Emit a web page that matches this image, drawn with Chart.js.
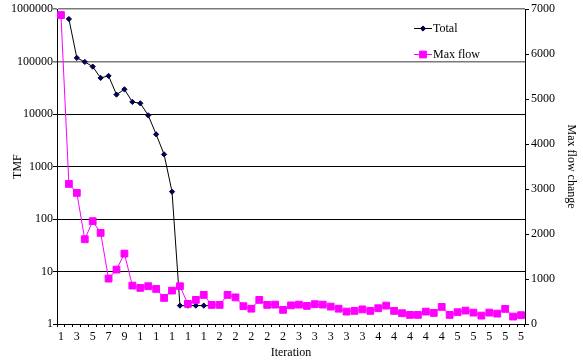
<!DOCTYPE html>
<html>
<head>
<meta charset="utf-8">
<script src="https://cdn.jsdelivr.net/npm/chart.js@4.4.1/dist/chart.umd.min.js"></script>
<style>
html,body{margin:0;padding:0;background:#fff;}
#wrap{width:583px;height:360px;}
</style>
</head>
<body>
<div id="wrap"><canvas id="c" width="583" height="360"></canvas></div>
<script>
const iterations = [1,2,3,4,5,6,7,8,9,10,11,12,13,14,15,16,17,18,19,20,21,22,23,24,25,26,27,28,29,30,31,32,33,34,35,36,37,38,39,40,41,42,43,44,45,46,47,48,49,50,51,52,53,54,55,56,57,58,59];
const tickLabels = ["1","","3","","5","","7","","9","","1","","1","","1","","1","","1","","2","","2","","2","","2","","2","","3","","3","","3","","3","","3","","4","","4","","4","","4","","4","","5","","5","","5","","5","","5"];
const totalTMF = [null,650000,118000,99000,80500,49000,53600,23600,29700,17100,16100,9480,4120,1710,332,2.24,2.24,2.24,2.24,2.24,
  null,null,null,null,null,null,null,null,null,null,null,null,null,null,null,null,null,null,null,null,
  null,null,null,null,null,null,null,null,null,null,null,null,null,null,null,null,null,null,null];
const maxFlow = [6870,3115,2915,1885,2286,2026,1010,1210,1565,854,803,840,780,580,743,840,447,536,647,425,
  425,647,592,396,340,536,425,431,314,414,431,402,440,431,387,340,276,291,325,291,
  351,409,291,240,202,202,276,247,380,202,262,298,253,187,253,231,336,165,196];
const leftTicks = [1,10,100,1000,10000,100000,1000000];
const seriesNames = ["Total","Max flow"];

const FONT = {family:"'Liberation Serif','Times New Roman',serif", size:12};

const legendPlugin = {
  id:'customLegend',
  afterDraw(chart){
    const ctx = chart.ctx;
    const items = [
      {ds:chart.data.datasets[0], y:28},
      {ds:chart.data.datasets[1], y:54}
    ];
    ctx.save();
    items.forEach(it=>{
      ctx.strokeStyle = it.ds.borderColor;
      ctx.lineWidth = 1;
      ctx.beginPath();
      ctx.moveTo(414, it.y + 0.5);
      ctx.lineTo(432, it.y + 0.5);
      ctx.stroke();
      ctx.fillStyle = it.ds.pointBackgroundColor;
      ctx.strokeStyle = it.ds.pointBorderColor;
      ctx.beginPath();
      if (it.ds.pointStyle === 'rect') {
        const s = it.ds.pointRadius * Math.SQRT1_2;
        ctx.rect(423 - s, it.y + 0.5 - s, 2*s, 2*s);
      } else {
        const r = it.ds.pointRadius;
        ctx.moveTo(423, it.y + 0.5 - r); ctx.lineTo(423 + r, it.y + 0.5);
        ctx.lineTo(423, it.y + 0.5 + r); ctx.lineTo(423 - r, it.y + 0.5); ctx.closePath();
      }
      ctx.fill(); ctx.stroke();
      ctx.fillStyle = '#000';
      ctx.font = "12px 'Liberation Serif','Times New Roman',serif";
      ctx.textBaseline = 'middle';
      ctx.textAlign = 'left';
      ctx.fillText(it.ds.label, 433, it.y + 1);
    });
    ctx.restore();
  }
};

const bgPlugin = {
  id:'bg',
  beforeDraw(chart){
    const ctx = chart.ctx; ctx.save(); ctx.fillStyle='#fff'; ctx.fillRect(0,0,chart.width,chart.height); ctx.restore();
  }
};

new Chart(document.getElementById('c'), {
  type:'line',
  data:{
    labels: iterations,
    datasets:[
      {label:seriesNames[0], data:totalTMF, yAxisID:'y', borderColor:'#000', borderWidth:1,
       pointStyle:'rectRot', pointRadius:2.6, pointBackgroundColor:'#000066', pointBorderColor:'#000033', pointBorderWidth:1,
       tension:0, spanGaps:false, order:1},
      {label:seriesNames[1], data:maxFlow, yAxisID:'y2', borderColor:'#FF00FF', borderWidth:1,
       pointStyle:'rect', pointRadius:4.8, pointBackgroundColor:'#FF00FF', pointBorderColor:'#FF00FF', pointBorderWidth:1,
       tension:0, order:0}
    ]
  },
  options:{
    responsive:false,
    animation:false,
    devicePixelRatio:1,
    layout:{padding:{top:9,left:0,right:0,bottom:0}},
    plugins:{legend:{display:false}, tooltip:{enabled:false}, title:{display:false}},
    scales:{
      x:{
        type:'category', offset:true,
        grid:{offset:true, drawOnChartArea:false, drawTicks:true, tickLength:3, color:'#000', lineWidth:1},
        border:{display:true, color:'#000', width:1},
        ticks:{autoSkip:false, maxRotation:0, minRotation:0, padding:3, color:'#000', font:FONT,
          callback:(v,i)=>tickLabels[i]},
        title:{display:true, text:'Iteration', color:'#000', font:FONT, padding:{top:0,bottom:0}},
        afterFit:(s)=>{s.height = 36;}
      },
      y:{
        type:'logarithmic', position:'left', min:1, max:1000000,
        afterBuildTicks:(s)=>{ s.ticks = leftTicks.map(v=>({value:v})); },
        grid:{drawOnChartArea:true, drawTicks:true, tickLength:4,
          color:(c)=> (c.tick && c.tick.value >= 100000) ? '#7a7a7a' : '#000',
          lineWidth:(c)=> (c.tick && c.tick.value >= 100000) ? 1.6 : 1},
        border:{display:true, color:'#000', width:1},
        ticks:{padding:0, color:'#000', font:FONT, callback:(v)=>String(v)},
        title:{display:true, text:'TMF', color:'#000', font:FONT, padding:{top:11,bottom:0}},
        afterFit:(s)=>{s.width = 57;}
      },
      y2:{
        type:'linear', position:'right', min:0, max:7000,
        grid:{drawOnChartArea:false, drawTicks:true, tickLength:4, color:'#000'},
        border:{display:true, color:'#000', width:1},
        ticks:{stepSize:1000, padding:2, color:'#000', font:FONT, callback:(v)=>String(v)},
        title:{display:true, text:'Max flow change', color:'#000', font:FONT, padding:{top:5,bottom:0}},
        afterFit:(s)=>{s.width = 58;}
      }
    }
  },
  plugins:[bgPlugin, legendPlugin]
});
</script>
</body>
</html>
